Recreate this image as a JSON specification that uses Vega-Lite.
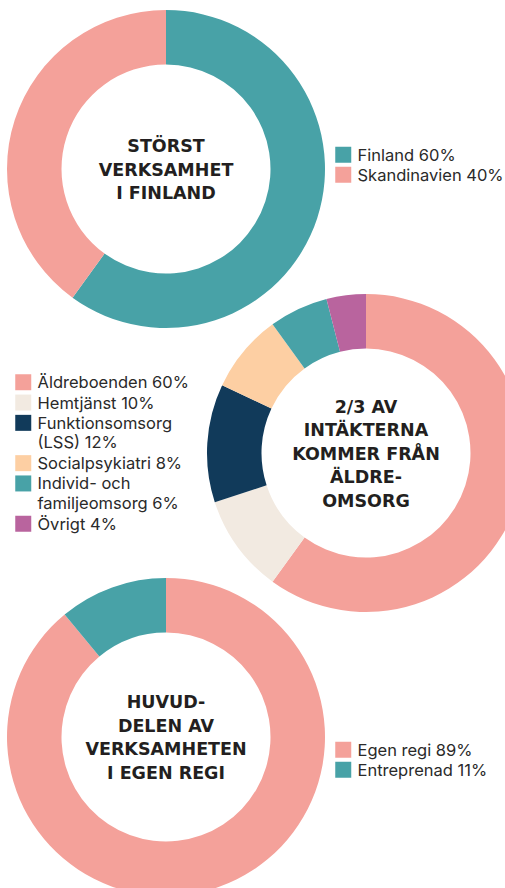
{
  "$schema": "https://vega.github.io/schema/vega-lite/v6.json",
  "width": 505,
  "height": 888,
  "padding": 0,
  "autosize": {"type": "none"},
  "background": "#ffffff",
  "datasets": {
    "shares": [
      {"chart": "1", "side": "L", "tier": "a", "label": "Finland 60%", "value": 60, "order": 1},
      {"chart": "1", "side": "L", "tier": "a", "label": "Skandinavien 40%", "value": 40, "order": 2},
      {"chart": "2", "side": "R", "tier": "b", "label": "Äldreboenden 60%", "value": 60, "order": 1},
      {"chart": "2", "side": "R", "tier": "b", "label": "Hemtjänst 10%", "value": 10, "order": 2},
      {"chart": "2", "side": "R", "tier": "b", "label": "Funktionsomsorg\n(LSS) 12%", "value": 12, "order": 3},
      {"chart": "2", "side": "R", "tier": "b", "label": "Socialpsykiatri 8%", "value": 8, "order": 4},
      {"chart": "2", "side": "R", "tier": "b", "label": "Individ- och\nfamiljeomsorg 6%", "value": 6, "order": 5},
      {"chart": "2", "side": "R", "tier": "b", "label": "Övrigt 4%", "value": 4, "order": 6},
      {"chart": "3", "side": "L", "tier": "c", "label": "Egen regi 89%", "value": 89, "order": 1},
      {"chart": "3", "side": "L", "tier": "c", "label": "Entreprenad 11%", "value": 11, "order": 2}
    ],
    "titles": [
      {"chart": "1", "side": "L", "tier": "a", "title": "STÖRST\nVERKSAMHET\nI FINLAND"},
      {"chart": "2", "side": "R", "tier": "b", "title": "2/3 AV\nINTÄKTERNA\nKOMMER FRÅN\nÄLDRE-\nOMSORG"},
      {"chart": "3", "side": "L", "tier": "c", "title": "HUVUD-\nDELEN AV\nVERKSAMHETEN\nI EGEN REGI"}
    ]
  },
  "encoding": {
    "x": {"field": "side", "type": "nominal", "scale": {"type": "point", "domain": ["L", "R"], "range": [166, 366], "padding": 0}, "axis": null},
    "y": {"field": "tier", "type": "nominal", "scale": {"type": "point", "domain": ["a", "b", "c"], "range": [169, 737], "padding": 0}, "axis": null}
  },
  "layer": [
    {
      "data": {"name": "shares"},
      "transform": [{"filter": "datum.chart === '1'"}],
      "mark": {"type": "arc", "outerRadius": 159, "innerRadius": 104.5},
      "encoding": {
        "theta": {"field": "value", "type": "quantitative", "stack": true, "scale": {"domain": [0, 100]}},
        "order": {"field": "order", "type": "quantitative"},
        "color": {
          "field": "label", "type": "nominal",
          "scale": {"domain": ["Finland 60%", "Skandinavien 40%"], "range": ["#48A2A7", "#F4A19A"]},
          "legend": {"orient": "none", "legendX": 335, "legendY": 146.5, "title": null, "rowPadding": 2,
            "labelExpr": "split(datum.label, '\\n')",
            "encode": {"labels": {"update": {"dy": {"value": -7}, "lineHeight": {"value": 19.5}}}}}
        }
      }
    },
    {
      "data": {"name": "shares"},
      "transform": [{"filter": "datum.chart === '2'"}],
      "mark": {"type": "arc", "outerRadius": 159, "innerRadius": 104.5},
      "encoding": {
        "theta": {"field": "value", "type": "quantitative", "stack": true, "scale": {"domain": [0, 100]}},
        "order": {"field": "order", "type": "quantitative"},
        "color": {
          "field": "label", "type": "nominal",
          "scale": {"domain": ["Äldreboenden 60%", "Hemtjänst 10%", "Funktionsomsorg\n(LSS) 12%", "Socialpsykiatri 8%", "Individ- och\nfamiljeomsorg 6%", "Övrigt 4%"],
            "range": ["#F4A19A", "#F2EAE1", "#113A5A", "#FDCFA3", "#48A2A7", "#B9649E"]},
          "legend": {"orient": "none", "legendX": 15, "legendY": 374, "title": null, "rowPadding": 2.3,
            "labelExpr": "split(datum.label, '\\n')",
            "encode": {"labels": {"update": {"dy": {"value": -7}, "lineHeight": {"value": 19.5}}}}}
        }
      }
    },
    {
      "data": {"name": "shares"},
      "transform": [{"filter": "datum.chart === '3'"}],
      "mark": {"type": "arc", "outerRadius": 159, "innerRadius": 104.5},
      "encoding": {
        "theta": {"field": "value", "type": "quantitative", "stack": true, "scale": {"domain": [0, 100]}},
        "order": {"field": "order", "type": "quantitative"},
        "color": {
          "field": "label", "type": "nominal",
          "scale": {"domain": ["Egen regi 89%", "Entreprenad 11%"], "range": ["#F4A19A", "#48A2A7"]},
          "legend": {"orient": "none", "legendX": 335, "legendY": 741.5, "title": null, "rowPadding": 2,
            "labelExpr": "split(datum.label, '\\n')",
            "encode": {"labels": {"update": {"dy": {"value": -7}, "lineHeight": {"value": 19.5}}}}}
        }
      }
    },
    {
      "data": {"name": "titles"},
      "mark": {"type": "text", "lineBreak": "\n", "align": "center", "baseline": "middle", "font": "DejaVu Sans", "fontWeight": "bold", "fontSize": 17.5, "lineHeight": 23.5, "color": "#231F20",
        "dy": {"expr": "1.5 - (length(split(datum.title, '\\n')) - 1) * 23.5 / 2"}},
      "encoding": {
        "text": {"field": "title", "type": "nominal"}
      }
    }
  ],
  "resolve": {"scale": {"color": "independent"}, "legend": {"color": "independent"}},
  "config": {
    "view": {"stroke": null},
    "legend": {
      "symbolType": "square", "symbolSize": 256, "symbolStrokeWidth": 0, "symbolOpacity": 1,
      "labelFont": "Inter", "labelFontSize": 16.5, "labelColor": "#2A2A2A", "labelOffset": 6, "labelLimit": 300,
      "labelBaseline": "top", "padding": 0, "offset": 0
    }
  }
}
